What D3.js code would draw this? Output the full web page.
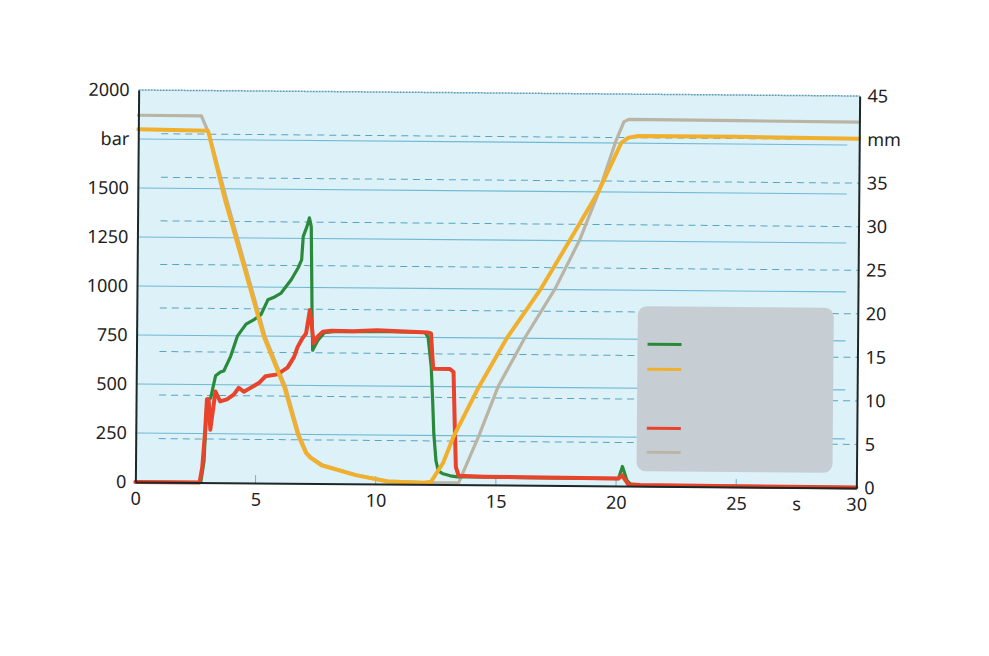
<!DOCTYPE html>
<html><head><meta charset="utf-8">
<script src="https://cdn.jsdelivr.net/npm/d3@7/dist/d3.min.js"></script>
<style>
html,body{margin:0;padding:0;background:#fff;}
svg{display:block;}
text{font-family:"Noto Sans",sans-serif;fill:#222;}
</style></head><body>
<svg id="chart" width="989" height="656"></svg>
<script>
// ---- data ----
const xTicks = [0, 5, 10, 15, 20, 25, 27.5, 30];
const barTicks = [0, 250, 500, 750, 1000, 1250, 1500, 1750, 2000];
const mmTicks = [0, 5, 10, 15, 20, 25, 30, 35, 40, 45];

// green pressure (bar)
const greenT = [0, 2.72, 2.85, 2.95, 3.1, 3.3, 3.5, 3.64, 3.92, 4.2, 4.55, 4.9, 5.17, 5.45, 5.73, 6.0, 6.42, 6.7, 6.84, 6.9, 7.05, 7.15, 7.23, 7.29, 7.33, 7.54, 7.81, 8.2, 10, 12.0, 12.13, 12.27, 12.34, 12.4, 12.5, 12.6, 12.8, 13.1, 13.4, 14, 17, 20.1, 20.26, 20.45, 20.65, 25, 30];
const greenV = [0, 0, 110, 425, 430, 545, 565, 570, 645, 750, 810, 835, 860, 935, 950, 970, 1040, 1100, 1140, 1260, 1310, 1355, 1310, 885, 680, 730, 770, 775, 778, 775, 750, 600, 430, 260, 120, 70, 55, 45, 40, 40, 38, 38, 100, 30, 4, 3, 2];

// red pressure (bar)
const redT = [0, 2.67, 2.78, 2.88, 2.95, 3.02, 3.1, 3.3, 3.5, 3.78, 4.06, 4.27, 4.48, 4.76, 5.1, 5.38, 5.87, 6.29, 6.56, 6.7, 6.9, 7.05, 7.12, 7.2, 7.29, 7.37, 7.54, 7.75, 8.1, 9.0, 10.0, 12.1, 12.25, 12.35, 13.05, 13.2, 13.27, 13.33, 13.45, 14.5, 17, 20.1, 20.25, 20.5, 21, 25, 30];
const redV = [0, 0, 80, 255, 425, 425, 270, 465, 415, 425, 450, 485, 465, 485, 510, 545, 555, 590, 645, 695, 740, 765, 820, 885, 800, 715, 750, 775, 780, 778, 785, 775, 770, 590, 590, 575, 300, 90, 45, 42, 40, 38, 55, 10, 6, 4, 3];

// orange position (mm)
const orangeT = [0, 2.9, 3.63, 5.3, 6.17, 6.76, 7.09, 7.26, 7.74, 9.16, 10.5, 12.0, 12.3, 12.8, 13.22, 14.23, 15.39, 16.77, 17.98, 19.15, 20.1, 20.4, 20.8, 25, 30];
const orangeV = [40.5, 40.4, 32.5, 16.8, 11.0, 5.5, 3.5, 3.0, 2.1, 1.0, 0.3, 0.2, 0.3, 2.5, 5.5, 11.1, 16.8, 22.4, 28.1, 33.7, 39.4, 40.0, 40.2, 40.2, 40.1];

// gray position (mm)
const grayT = [0, 2.62, 2.95, 3.7, 5.35, 6.22, 6.8, 7.12, 7.3, 7.8, 9.2, 10.5, 12.0, 13.45, 14.27, 15.06, 16.15, 17.4, 18.4, 19.2, 19.86, 20.2, 20.4, 25, 30];
const grayV = [42.1, 42.1, 40.0, 32.5, 16.8, 11.0, 5.5, 3.5, 3.0, 2.1, 1.0, 0.35, 0.2, 0.2, 5.6, 11.3, 16.9, 22.6, 28.2, 33.9, 39.5, 41.8, 42.1, 42.05, 42.0];

// ---- layout ----
const L = 137, R = 858, T = 93, B = 485;
const svg = d3.select("#chart");
const g = svg.append("g").attr("transform", "rotate(0.48,497,289)");

const x = d3.scaleLinear().domain([0, 30]).range([L, R]);
const yBar = d3.scaleLinear().domain([0, 2000]).range([B, T]);
const yMm = d3.scaleLinear().domain([0, 45]).range([B, T]);

g.append("rect").attr("x", L).attr("y", T).attr("width", R - L).attr("height", B - T).attr("fill", "#dcf1f8");

// solid gridlines (bar)
g.selectAll("line.gs").data(barTicks.filter(d => d > 0 && d < 2000)).join("line")
  .attr("x1", L).attr("x2", R - 12).attr("y1", d => yBar(d)).attr("y2", d => yBar(d))
  .attr("stroke", "#6fb9d4").attr("stroke-width", 1.1);
// dashed gridlines (mm)
g.selectAll("line.gd").data(mmTicks.filter(d => d > 0 && d < 45)).join("line")
  .attr("x1", L + 23).attr("x2", R).attr("y1", d => yMm(d)).attr("y2", d => yMm(d))
  .attr("stroke", "#5aa3bf").attr("stroke-width", 1).attr("stroke-dasharray", "7,5");
// top border
g.append("line").attr("x1", L).attr("x2", R).attr("y1", T).attr("y2", T)
  .attr("stroke", "#5c98b4").attr("stroke-width", 1.5).attr("stroke-dasharray", "2,1");
// inner x ticks
g.selectAll("line.xt").data([5, 10, 15, 20, 25]).join("line")
  .attr("x1", d => x(d)).attr("x2", d => x(d)).attr("y1", B).attr("y2", B - 8)
  .attr("stroke", "#6ab4cf").attr("stroke-width", 1);

// legend box
g.append("rect").attr("x", 638).attr("y", 305).attr("width", 196).attr("height", 165).attr("rx", 9)
  .attr("fill", "#c6ced4");
const legendColors = ["#2a8a3c", "#f0b02e", "#e8432b", "#bdb6a6"];
const legendY = [343, 368, 427, 451];
g.selectAll("line.lg").data(legendColors).join("line")
  .attr("x1", 648).attr("x2", 682).attr("y1", (d, i) => legendY[i]).attr("y2", (d, i) => legendY[i])
  .attr("stroke", d => d).attr("stroke-width", 3);

// lines
function series(T_, V_, ys, color, w) {
  const pts = T_.map((t, i) => [t, V_[i]]);
  const line = d3.line().x(d => x(d[0])).y(d => ys(d[1]));
  g.append("path").datum(pts).attr("d", line).attr("fill", "none")
    .attr("stroke", color).attr("stroke-width", w).attr("stroke-linejoin", "round").attr("stroke-linecap", "round");
}
series(grayT, grayV, yMm, "#bab4a4", 3.2);
series(greenT, greenV, yBar, "#2a8a3c", 3.2);
series(redT, redV, yBar, "#e8432b", 4);
series(orangeT, orangeV, yMm, "#f0b02e", 4);

// axes
const fmtBar = d => d === 1750 ? "bar" : d;
const fmtMm = d => d === 40 ? "mm" : d;
const fmtX = d => d === 27.5 ? "s" : d;

const ax1 = g.append("g").attr("transform", `translate(${L},0)`)
  .call(d3.axisLeft(yBar).tickValues(barTicks).tickFormat(fmtBar).tickSize(0).tickPadding(9));
const ax2 = g.append("g").attr("transform", `translate(${R},0)`)
  .call(d3.axisRight(yMm).tickValues(mmTicks).tickFormat(fmtMm).tickSize(0).tickPadding(8));
const ax3 = g.append("g").attr("transform", `translate(0,${B})`)
  .call(d3.axisBottom(x).tickValues(xTicks).tickFormat(fmtX).tickSize(0).tickPadding(10));
[ax1, ax2, ax3].forEach(a => {
  a.select(".domain").attr("stroke", "#1c2828").attr("stroke-width", 2);
  a.selectAll("text").attr("font-size", 18).attr("font-family", "'Noto Sans',sans-serif").attr("fill", "#222");
});
</script>
</body></html>
